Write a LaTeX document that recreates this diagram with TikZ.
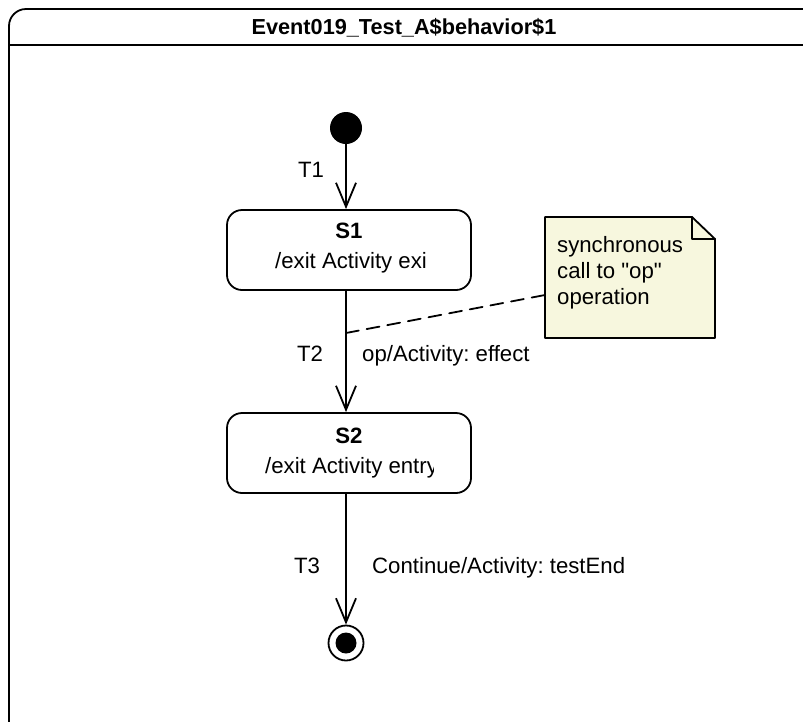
\documentclass[tikz,border=0pt]{standalone}
\usepackage{fontspec}
\setmainfont{Liberation Sans}
\usetikzlibrary{arrows.meta}
\definecolor{notefill}{RGB}{247,247,222}
\frenchspacing
\begin{document}
\begin{tikzpicture}[x=1pt, y=-1pt, line cap=round, line join=round,
    font=\fontsize{22.2}{26}\selectfont,
    state/.style={draw, line width=1.8pt, rounded corners=15pt, minimum width=244pt, minimum height=80pt, inner sep=0pt},
    txt/.style={inner sep=0pt, anchor=base},
    trans/.style={line width=1.8pt, -{Straight Barb[length=24pt, width=20pt]}},
    notelink/.style={line width=1.8pt, dash pattern=on 13pt off 8pt}]
  \useasboundingbox (0,0) rectangle (803,721);
  \clip (0,0) rectangle (803,721);
  % frame
  \draw[line width=1.8pt, rounded corners=17pt] (9,9) rectangle (820,740);
  \draw[line width=1.8pt] (9,45) -- (820,45);
  \node[txt, font=\fontsize{21.7}{26}\selectfont\bfseries] (title) at (404,34) {Event019\_Test\_A\$behavior\$1};
  % states
  \node[circle, fill, minimum size=32pt, inner sep=0pt] (init) at (346,128) {};
  \node[state] (S1) at (349,250) {};
  \node[txt] (S1name) at (349,238) {\bfseries S1};
  \node[txt] (S1act) at (351,268) {/exit Activity exi};
  \node[state] (S2) at (349,453) {};
  \node[txt] (S2name) at (349,443) {\bfseries S2};
  \begin{scope}
    \clip (265,450) rectangle (433,480);
    \node[txt, anchor=base west] (S2act) at (265,473) {/exit Activity entry};
  \end{scope}
  \node[circle, draw, line width=1.8pt, minimum size=35pt, inner sep=0pt] (fin) at (346,643) {};
  \fill (fin.center) circle (10.5pt);
  % transitions
  \draw[trans] (init) -- (init |- S1.north);
  \draw[trans] (S1.south -| init) -- (S2.north -| init);
  \draw[trans] (S2.south -| fin) -- (fin);
  \node[txt] (T1) at (311,177) {T1};
  \node[txt] (T2) at (310,361) {T2};
  \node[txt, anchor=base west] (T2lbl) at (362,361) {op/Activity: effect};
  \node[txt] (T3) at (307,573) {T3};
  \node[txt, anchor=base west] (T3lbl) at (372,573) {Continue/Activity: testEnd};
  % note
  \filldraw[line width=1.8pt, fill=notefill] (545,217) -- (692,217) -- (715,239) -- (715,338) -- (545,338) -- cycle;
  \draw[line width=1.8pt] (692,217) -- (692,239) -- (715,239);
  \node[inner sep=0pt, anchor=north west, align=left] (note) at (557,236) {synchronous\\call to \textquotedbl op\textquotedbl\\operation};
  \coordinate (t2p) at (346,333);
  \coordinate (noteW) at (545,295);
  \draw[notelink] (t2p) -- (noteW);
\end{tikzpicture}
\end{document}
